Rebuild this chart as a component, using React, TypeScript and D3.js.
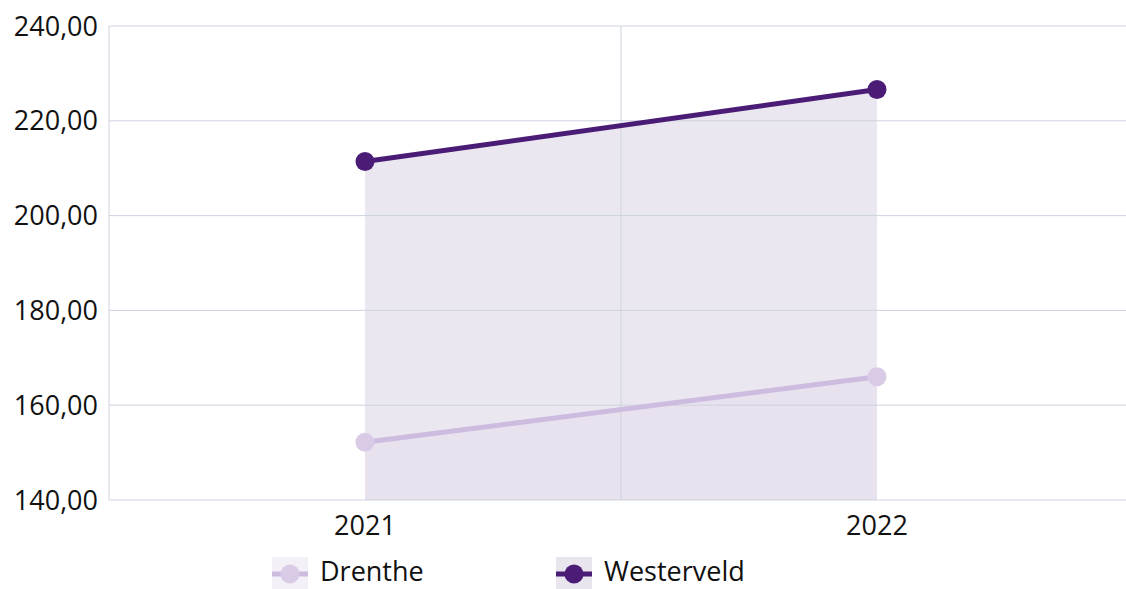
import React from 'react';
import * as d3 from 'd3';

const years = ['2021', '2022'];
const drenthe = [152.2, 166.0];
const westerveld = [211.4, 226.6];
const yTicks = [140, 160, 180, 200, 220, 240];
const seriesNames = ['Drenthe', 'Westerveld'];

const W = 1126;
const H = 589;
const margin = { left: 109, top: 26, bottom: 500, right: 1133 };

const fmt = (v: number) => v.toFixed(2).replace('.', ',');

export default function App() {
  const x = d3.scalePoint<string>().domain(years).range([margin.left, margin.right]).padding(0.5);
  const band = d3.scaleBand<string>().domain(years).range([margin.left, margin.right]);
  const y = d3.scaleLinear().domain([140, 240]).range([margin.bottom, margin.top]);

  const line = d3
    .line<number>()
    .x((_, i) => x(years[i]) as number)
    .y(d => y(d));
  const area = d3
    .area<number>()
    .x((_, i) => x(years[i]) as number)
    .y0(y(140))
    .y1(d => y(d));

  const series = [
    { name: seriesNames[0], values: drenthe, stroke: '#cdbcdf', dot: '#d9cbe6', fill: 'rgba(214,190,238,0.08)', legendBg: '#f4f0f8' },
    { name: seriesNames[1], values: westerveld, stroke: '#4b1c76', dot: '#4b1c76', fill: 'rgba(76,40,120,0.11)', legendBg: '#e9e5ef' },
  ];

  const grid = '#cdd3de';
  const font = "'Open Sans', 'Noto Sans', sans-serif";
  const fs = 27;

  return (
    <div style={{ position: 'absolute', left: 0, top: 0 }}>
      <svg width={W} height={H} style={{ display: 'block' }} fontFamily={font}>
        {series.map(s => (
          <path key={s.name + 'a'} d={area(s.values) || ''} fill={s.fill} />
        ))}
        {yTicks.map(t => (
          <g key={t}>
            <line x1={margin.left} x2={W} y1={y(t)} y2={y(t)} stroke={grid} strokeWidth={1} />
            <text x={98} y={y(t) + 9.5} textAnchor="end" fontSize={fs} fill="#111">{fmt(t)}</text>
          </g>
        ))}
        {years.slice(1).map(yr => (
          <line key={yr} x1={band(yr)} x2={band(yr)} y1={margin.top} y2={margin.bottom} stroke={grid} strokeWidth={1} />
        ))}
        <line x1={margin.left} x2={margin.left} y1={margin.top} y2={margin.bottom} stroke={grid} strokeWidth={1} />
        {years.map(yr => (
          <text key={yr} x={x(yr)} y={535} textAnchor="middle" fontSize={fs} fill="#111">{yr}</text>
        ))}
        {series.map(s => (
          <g key={s.name}>
            <path d={line(s.values) || ''} fill="none" stroke={s.stroke} strokeWidth={5} />
            {s.values.map((v, i) => (
              <circle key={i} cx={x(years[i])} cy={y(v)} r={9.5} fill={s.dot} />
            ))}
          </g>
        ))}
        {series.map((s, i) => {
          const lx = 272 + i * 284;
          const ly = 574;
          return (
            <g key={s.name + 'l'}>
              <rect x={lx} y={ly - 17} width={36} height={34} fill={s.legendBg} />
              <line x1={lx} x2={lx + 36} y1={ly} y2={ly} stroke={s.stroke} strokeWidth={5} />
              <circle cx={lx + 18} cy={ly} r={9.5} fill={s.dot} />
              <text x={lx + 48} y={ly + 7} fontSize={fs} fill="#111">{s.name}</text>
            </g>
          );
        })}
      </svg>
    </div>
  );
}
